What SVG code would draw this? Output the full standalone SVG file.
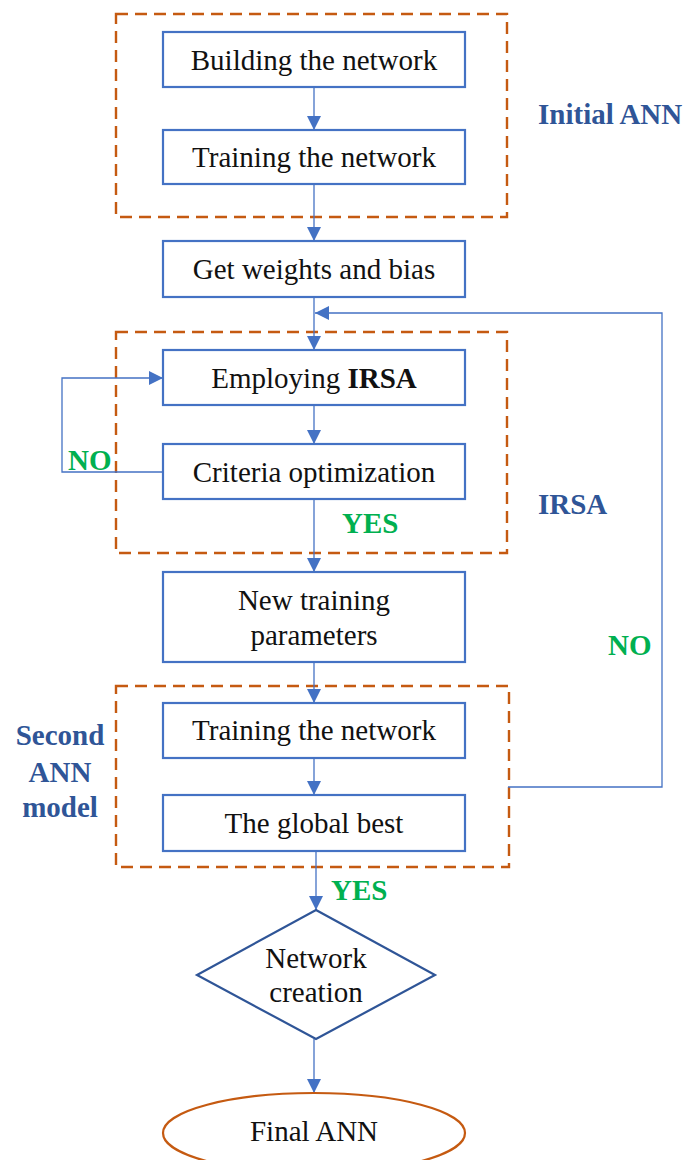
<svg xmlns="http://www.w3.org/2000/svg" width="686" height="1160" viewBox="0 0 686 1160">
<style>
.box{fill:#fff;stroke:#4472C4;stroke-width:2.2}
.grp{fill:none;stroke:#C55A11;stroke-width:2.4;stroke-dasharray:12,7}
.t{font-family:"Liberation Serif",serif;font-size:29px;fill:#111;text-anchor:middle}
.lbl{font-family:"Liberation Serif",serif;font-size:29px;font-weight:bold;fill:#2F5597}
.yn{font-family:"Liberation Serif",serif;font-size:29px;font-weight:bold;fill:#00B050}
.c{fill:none;stroke:#4472C4;stroke-width:1.3}
</style>
<defs>
<marker id="ah" viewBox="0 0 10 10" refX="10" refY="5" markerWidth="14" markerHeight="14" markerUnits="userSpaceOnUse" orient="auto">
<path d="M0,0 L10,5 L0,10 z" fill="#4472C4"/>
</marker>
</defs>
<g id="groups">
<rect class="grp" x="116" y="14" width="391" height="203"/>
<rect class="grp" x="116" y="332" width="391" height="221"/>
<rect class="grp" x="116" y="686" width="393" height="181"/>
<text class="lbl" x="538" y="124">Initial ANN</text>
<text class="lbl" x="538" y="514">IRSA</text>
<text class="lbl" x="60" y="745" text-anchor="middle">Second</text>
<text class="lbl" x="60" y="782" text-anchor="middle">ANN</text>
<text class="lbl" x="60" y="817" text-anchor="middle">model</text>
</g>
<g id="connectors">
<line class="c" x1="314" y1="87" x2="314" y2="130" marker-end="url(#ah)"/>
<line class="c" x1="314" y1="184" x2="314" y2="241" marker-end="url(#ah)"/>
<line class="c" x1="314" y1="297" x2="314" y2="350" marker-end="url(#ah)"/>
<polyline class="c" points="508,787 662,787 662,313 315,313" marker-end="url(#ah)"/>
<line class="c" x1="314" y1="405" x2="314" y2="444" marker-end="url(#ah)"/>
<polyline class="c" points="163,472 62,472 62,378 163,378" marker-end="url(#ah)"/>
<line class="c" x1="314" y1="499" x2="314" y2="572" marker-end="url(#ah)"/>
<line class="c" x1="314" y1="662" x2="314" y2="703" marker-end="url(#ah)"/>
<line class="c" x1="314" y1="758" x2="314" y2="795" marker-end="url(#ah)"/>
<line class="c" x1="316" y1="851" x2="316" y2="910" marker-end="url(#ah)"/>
<line class="c" x1="314" y1="1039" x2="314" y2="1093" marker-end="url(#ah)"/>
<text class="yn" x="68" y="470">NO</text>
<text class="yn" x="342" y="533">YES</text>
<text class="yn" x="608" y="655">NO</text>
<text class="yn" x="331" y="900">YES</text>
</g>
<g id="n1"><rect class="box" x="163" y="32" width="302" height="55"/><text class="t" x="314" y="70">Building the network</text></g>
<g id="n2"><rect class="box" x="163" y="130" width="302" height="54"/><text class="t" x="314" y="167">Training the network</text></g>
<g id="n3"><rect class="box" x="163" y="241" width="302" height="56"/><text class="t" x="314" y="279">Get weights and bias</text></g>
<g id="n4"><rect class="box" x="163" y="350" width="302" height="55"/><text class="t" x="314" y="388">Employing <tspan font-weight="bold">IRSA</tspan></text></g>
<g id="n5"><rect class="box" x="163" y="444" width="302" height="55"/><text class="t" x="314" y="482">Criteria optimization</text></g>
<g id="n6"><rect class="box" x="163" y="572" width="302" height="90"/><text class="t" x="314" y="610">New training</text><text class="t" x="314" y="645">parameters</text></g>
<g id="n7"><rect class="box" x="163" y="703" width="302" height="55"/><text class="t" x="314" y="740">Training the network</text></g>
<g id="n8"><rect class="box" x="163" y="795" width="302" height="56"/><text class="t" x="314" y="833">The global best</text></g>
<g id="n9"><polygon points="316,910 435,975 316,1039 197,975" fill="#fff" stroke="#2F5597" stroke-width="2.2"/><text class="t" x="316" y="968">Network</text><text class="t" x="316" y="1002">creation</text></g>
<g id="n10"><ellipse cx="314" cy="1133" rx="151" ry="40" fill="#fff" stroke="#C55A11" stroke-width="2.2"/><text class="t" x="314" y="1141">Final ANN</text></g>
</svg>
